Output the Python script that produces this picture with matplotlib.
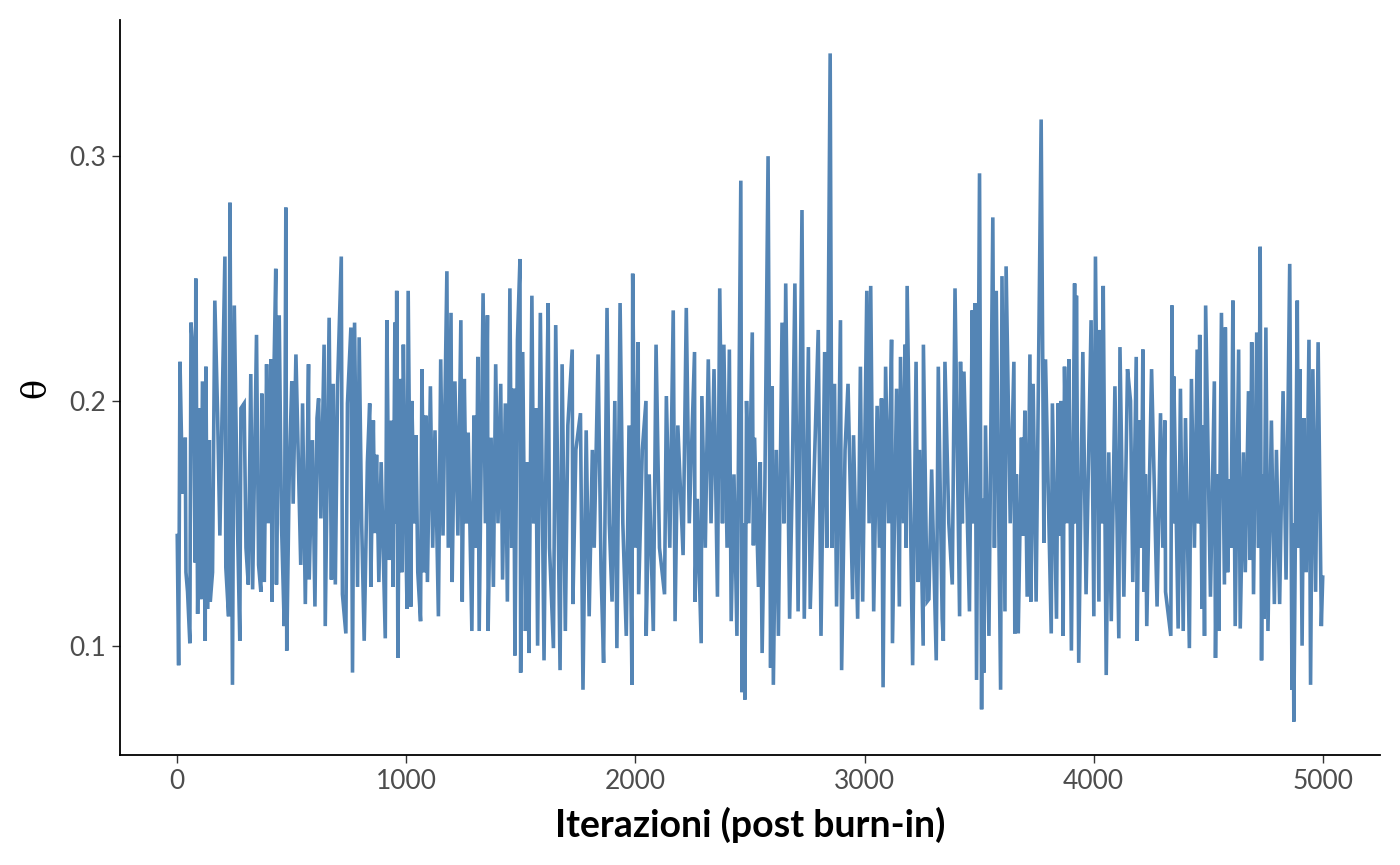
import matplotlib.pyplot as plt

# theta trace after burn-in, peaks and troughs (iteration, value)
iteration = [
    0, 6, 12, 23, 35, 38, 45, 55, 60, 70, 78, 81, 89, 99, 103, 110, 122, 125, 132, 140,
    144, 154, 164, 176, 186, 208, 212, 224, 230, 241, 249, 263, 273, 278, 292, 300, 310, 321, 329, 346,
    355, 365, 369, 380, 390, 398, 409, 414, 419, 430, 433, 445, 455, 467, 474, 478, 489, 500, 506, 518,
    539, 547, 559, 573, 576, 590, 601, 610, 617, 627, 641, 646, 663, 673, 681, 690, 700, 716, 721, 736,
    743, 758, 765, 774, 787, 794, 805, 816, 830, 840, 845, 856, 862, 870, 880, 890, 908, 915, 925, 935,
    942, 950, 954, 958, 963, 972, 980, 987, 997, 1003, 1008, 1020, 1024, 1035, 1042, 1050, 1062, 1068, 1078, 1085,
    1092, 1105, 1115, 1125, 1140, 1150, 1160, 1177, 1183, 1195, 1200, 1212, 1225, 1238, 1244, 1253, 1262, 1270, 1286, 1295,
    1305, 1312, 1318, 1335, 1345, 1354, 1357, 1370, 1380, 1390, 1400, 1412, 1420, 1432, 1441, 1452, 1460, 1468, 1474, 1485,
    1496, 1499, 1508, 1520, 1528, 1535, 1548, 1556, 1565, 1573, 1585, 1601, 1610, 1619, 1625, 1642, 1652, 1671, 1680, 1694,
    1705, 1724, 1727, 1740, 1760, 1771, 1785, 1798, 1812, 1820, 1837, 1850, 1861, 1876, 1886, 1898, 1910, 1919, 1933, 1945,
    1960, 1972, 1985, 1988, 2000, 2012, 2014, 2030, 2046, 2047, 2060, 2078, 2090, 2105, 2127, 2135, 2150, 2165, 2173, 2185,
    2208, 2222, 2235, 2258, 2260, 2270, 2287, 2290, 2305, 2318, 2330, 2343, 2358, 2368, 2380, 2386, 2400, 2410, 2418, 2430,
    2443, 2460, 2465, 2470, 2478, 2485, 2495, 2510, 2515, 2520, 2537, 2545, 2553, 2565, 2579, 2590, 2597, 2602, 2615, 2624,
    2640, 2648, 2656, 2673, 2685, 2696, 2710, 2727, 2737, 2755, 2763, 2780, 2798, 2810, 2826, 2835, 2850, 2858, 2869, 2878,
    2895, 2900, 2915, 2928, 2948, 2952, 2970, 2982, 2992, 3010, 3020, 3027, 3040, 3055, 3065, 3074, 3081, 3092, 3105, 3118,
    3122, 3140, 3152, 3157, 3170, 3177, 3182, 3186, 3210, 3225, 3233, 3240, 3256, 3257, 3273, 3281, 3293, 3313, 3322, 3339,
    3344, 3351, 3368, 3383, 3395, 3415, 3419, 3427, 3434, 3458, 3470, 3476, 3482, 3489, 3502, 3511, 3516, 3521, 3528, 3543,
    3560, 3567, 3575, 3594, 3600, 3613, 3618, 3636, 3652, 3656, 3663, 3671, 3685, 3692, 3700, 3710, 3722, 3726, 3736, 3749,
    3771, 3783, 3790, 3815, 3820, 3838, 3845, 3852, 3858, 3867, 3873, 3883, 3892, 3903, 3917, 3921, 3925, 3935, 3953, 3967,
    3989, 4001, 4008, 4023, 4027, 4035, 4042, 4055, 4066, 4077, 4093, 4110, 4115, 4132, 4148, 4161, 4171, 4186, 4190, 4200,
    4208, 4215, 4221, 4226, 4232, 4253, 4277, 4292, 4302, 4311, 4314, 4337, 4342, 4346, 4350, 4369, 4379, 4391, 4401, 4418,
    4427, 4440, 4452, 4458, 4463, 4473, 4478, 4484, 4489, 4510, 4527, 4532, 4540, 4546, 4558, 4571, 4575, 4585, 4594, 4600,
    4608, 4618, 4633, 4640, 4654, 4662, 4676, 4683, 4690, 4698, 4712, 4720, 4727, 4733, 4738, 4743, 4752, 4761, 4776, 4789,
    4798, 4812, 4827, 4840, 4856, 4866, 4870, 4874, 4889, 4895, 4900, 4910, 4918, 4928, 4940, 4947, 4957, 4969, 4980, 4994,
    5000,
]
theta = [
    0.145, 0.092, 0.216, 0.162, 0.185, 0.130, 0.122, 0.101, 0.232, 0.219, 0.134, 0.250, 0.113, 0.197, 0.119, 0.208, 0.102, 0.214, 0.115, 0.184,
    0.118, 0.130, 0.241, 0.195, 0.145, 0.259, 0.132, 0.112, 0.281, 0.084, 0.239, 0.149, 0.102, 0.197, 0.199, 0.140, 0.125, 0.211, 0.123, 0.227,
    0.133, 0.122, 0.203, 0.126, 0.215, 0.150, 0.217, 0.118, 0.195, 0.254, 0.125, 0.235, 0.150, 0.108, 0.279, 0.098, 0.171, 0.208, 0.158, 0.219,
    0.133, 0.199, 0.117, 0.215, 0.127, 0.184, 0.116, 0.193, 0.201, 0.152, 0.223, 0.108, 0.234, 0.127, 0.207, 0.125, 0.207, 0.259, 0.121, 0.105,
    0.199, 0.230, 0.089, 0.232, 0.124, 0.226, 0.150, 0.102, 0.175, 0.199, 0.124, 0.192, 0.146, 0.178, 0.126, 0.175, 0.103, 0.233, 0.135, 0.192,
    0.124, 0.232, 0.150, 0.245, 0.095, 0.209, 0.130, 0.223, 0.150, 0.115, 0.245, 0.116, 0.200, 0.150, 0.186, 0.130, 0.110, 0.213, 0.130, 0.194,
    0.126, 0.206, 0.140, 0.188, 0.112, 0.217, 0.145, 0.253, 0.140, 0.236, 0.126, 0.208, 0.145, 0.233, 0.118, 0.209, 0.150, 0.187, 0.106, 0.194,
    0.140, 0.218, 0.106, 0.244, 0.150, 0.235, 0.106, 0.185, 0.124, 0.215, 0.150, 0.207, 0.127, 0.199, 0.118, 0.246, 0.140, 0.205, 0.096, 0.225,
    0.258, 0.089, 0.220, 0.106, 0.175, 0.097, 0.243, 0.150, 0.197, 0.100, 0.236, 0.094, 0.180, 0.240, 0.140, 0.099, 0.231, 0.090, 0.215, 0.106,
    0.190, 0.221, 0.117, 0.180, 0.195, 0.082, 0.188, 0.112, 0.180, 0.140, 0.219, 0.130, 0.093, 0.238, 0.150, 0.118, 0.200, 0.099, 0.240, 0.150,
    0.104, 0.190, 0.084, 0.252, 0.140, 0.224, 0.121, 0.180, 0.200, 0.104, 0.170, 0.106, 0.223, 0.140, 0.121, 0.202, 0.140, 0.237, 0.110, 0.190,
    0.137, 0.238, 0.150, 0.220, 0.118, 0.160, 0.101, 0.202, 0.140, 0.217, 0.150, 0.213, 0.120, 0.246, 0.150, 0.223, 0.140, 0.221, 0.110, 0.170,
    0.104, 0.290, 0.081, 0.150, 0.078, 0.200, 0.150, 0.228, 0.141, 0.185, 0.124, 0.175, 0.097, 0.165, 0.300, 0.091, 0.206, 0.084, 0.180, 0.104,
    0.232, 0.150, 0.248, 0.111, 0.170, 0.248, 0.114, 0.278, 0.111, 0.222, 0.115, 0.170, 0.229, 0.104, 0.220, 0.140, 0.342, 0.140, 0.207, 0.116,
    0.233, 0.090, 0.180, 0.207, 0.119, 0.186, 0.111, 0.214, 0.118, 0.245, 0.150, 0.247, 0.114, 0.198, 0.140, 0.201, 0.083, 0.214, 0.150, 0.225,
    0.101, 0.205, 0.116, 0.218, 0.150, 0.223, 0.140, 0.247, 0.092, 0.216, 0.126, 0.180, 0.100, 0.223, 0.118, 0.119, 0.172, 0.094, 0.214, 0.111,
    0.102, 0.216, 0.150, 0.125, 0.246, 0.112, 0.216, 0.150, 0.212, 0.114, 0.237, 0.150, 0.240, 0.086, 0.293, 0.074, 0.160, 0.089, 0.190, 0.104,
    0.275, 0.140, 0.245, 0.082, 0.251, 0.114, 0.255, 0.150, 0.216, 0.105, 0.170, 0.105, 0.185, 0.145, 0.196, 0.120, 0.219, 0.118, 0.207, 0.118,
    0.315, 0.142, 0.217, 0.105, 0.199, 0.111, 0.199, 0.145, 0.200, 0.104, 0.214, 0.150, 0.217, 0.098, 0.248, 0.150, 0.243, 0.093, 0.220, 0.121,
    0.233, 0.112, 0.259, 0.118, 0.229, 0.150, 0.247, 0.088, 0.179, 0.110, 0.206, 0.103, 0.222, 0.120, 0.213, 0.200, 0.126, 0.218, 0.102, 0.192,
    0.140, 0.221, 0.122, 0.170, 0.108, 0.213, 0.116, 0.195, 0.140, 0.192, 0.122, 0.104, 0.239, 0.150, 0.210, 0.107, 0.205, 0.106, 0.193, 0.099,
    0.209, 0.140, 0.221, 0.150, 0.227, 0.115, 0.190, 0.104, 0.239, 0.120, 0.208, 0.095, 0.170, 0.106, 0.236, 0.125, 0.230, 0.130, 0.168, 0.140,
    0.241, 0.108, 0.221, 0.107, 0.179, 0.130, 0.204, 0.135, 0.224, 0.121, 0.228, 0.140, 0.263, 0.094, 0.170, 0.111, 0.230, 0.106, 0.192, 0.117,
    0.180, 0.117, 0.204, 0.127, 0.256, 0.082, 0.150, 0.069, 0.241, 0.140, 0.213, 0.100, 0.193, 0.130, 0.225, 0.084, 0.213, 0.122, 0.224, 0.108,
    0.128,
]

x_ticks = [0, 1000, 2000, 3000, 4000, 5000]
y_ticks = [0.1, 0.2, 0.3]

fig = plt.figure(figsize=(14, 8.65), dpi=100)
ax = fig.add_axes([0.0857, 0.1272, 0.9, 0.8497])

ax.plot(iteration, theta, color="#5485b5", lw=2.6, solid_joinstyle="miter")

ax.set_xlim(-250, 5250)
lo, hi = min(theta), max(theta)
pad = (hi - lo) * 0.05
ax.set_ylim(lo - pad, hi + pad)

ax.set_xticks(x_ticks)
ax.set_yticks(y_ticks)
ax.set_yticklabels([f"{v:.1f}" for v in y_ticks])

for side in ["top", "right"]:
    ax.spines[side].set_visible(False)
for side in ["left", "bottom"]:
    ax.spines[side].set_color("black")
    ax.spines[side].set_linewidth(1.3)

ax.tick_params(axis="both", length=6, width=1.0, color="#333333",
               labelcolor="#4d4d4d", labelsize=19, pad=4)
for lab in ax.get_xticklabels() + ax.get_yticklabels():
    lab.set_fontfamily("Lato")

ax.set_xlabel("Iterazioni (post burn-in)", fontsize=27, fontweight="bold",
              fontfamily="Lato", labelpad=9)
ax.set_ylabel("θ", fontsize=24, fontfamily="DejaVu Serif", labelpad=12)

fig.savefig("out.png", dpi=100)
